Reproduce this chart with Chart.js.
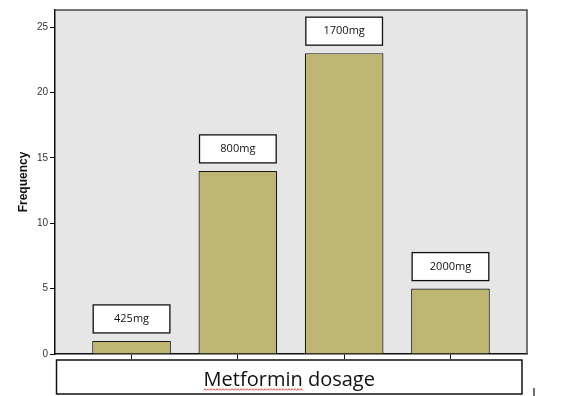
<!DOCTYPE html>
<html>
<head>
<meta charset="utf-8">
<script src="https://cdn.jsdelivr.net/npm/chart.js@4/dist/chart.umd.min.js"></script>
<style>
  html, body { margin: 0; padding: 0; background: #fff; }
  canvas { display: block; }
</style>
</head>
<body>
<canvas id="dosageChart" width="575" height="396"></canvas>
<script>
const categories = ["425mg", "800mg", "1700mg", "2000mg"];
const frequencies = [1, 14, 23, 5];
const axisTitle = "Metformin dosage";
const yTitle = "Frequency";

// plot background + frame (top / right lines in dark gray)
const plotFrame = {
    id: "plotFrame",
    beforeDraw(chart) {
        const { ctx, chartArea: a } = chart;
        ctx.save();
        ctx.fillStyle = "#e6e6e6";
        ctx.fillRect(a.left, a.top, a.right - a.left, a.bottom - a.top);
        ctx.restore();
    },
    afterDraw(chart) {
        const { ctx, chartArea: a } = chart;
        ctx.save();
        ctx.strokeStyle = "#4a4a4a";
        ctx.lineWidth = 1.5;
        ctx.beginPath();
        ctx.moveTo(a.left, a.top);
        ctx.lineTo(a.right, a.top);
        ctx.lineTo(a.right, a.bottom);
        ctx.stroke();
        ctx.restore();
    },
};

// white labelled boxes sitting above each bar
const barLabels = {
    id: "barLabels",
    afterDatasetsDraw(chart) {
        const { ctx } = chart;
        const meta = chart.getDatasetMeta(0);
        ctx.save();
        meta.data.forEach((bar, i) => {
            const w = bar.width - 2;
            const h = 28;
            const bx = bar.x - w / 2;
            const by = bar.y - 8 - h;
            ctx.fillStyle = "#fff";
            ctx.fillRect(bx, by, w, h);
            ctx.strokeStyle = "#111";
            ctx.lineWidth = 1.3;
            ctx.strokeRect(bx, by, w, h);
            ctx.fillStyle = "#111";
            ctx.font = "11px 'Open Sans'";
            ctx.textAlign = "center";
            ctx.textBaseline = "middle";
            ctx.fillText(categories[i], bar.x, by + h / 2);
        });
        ctx.restore();
    },
};

// boxed x-axis caption under the plot
const captionBox = {
    id: "captionBox",
    afterDraw(chart) {
        const { ctx, chartArea: a } = chart;
        const left = a.left + 1.5, right = a.right - 5;
        const top = a.bottom + 6, bottom = 394;
        ctx.save();
        ctx.fillStyle = "#fff";
        ctx.fillRect(left, top, right - left, bottom - top);
        ctx.strokeStyle = "#111";
        ctx.lineWidth = 1.5;
        ctx.strokeRect(left, top, right - left, bottom - top);

        ctx.font = "20px 'Open Sans'";
        ctx.fillStyle = "#111";
        ctx.textAlign = "center";
        ctx.textBaseline = "alphabetic";
        const cx = (left + right) / 2;
        ctx.fillText(axisTitle, cx, 386);

        // red squiggle under the first word
        const full = ctx.measureText(axisTitle).width;
        const word = ctx.measureText(axisTitle.split(" ")[0]).width;
        const x0 = cx - full / 2;
        ctx.strokeStyle = "#d02020";
        ctx.lineWidth = 0.8;
        ctx.beginPath();
        for (let x = 0; x <= word; x += 1.5) {
            const y = 389.5 + ((Math.round(x / 1.5) % 2) ? -0.8 : 0.8);
            if (x === 0) ctx.moveTo(x0 + x, y); else ctx.lineTo(x0 + x, y);
        }
        ctx.stroke();

        // stray mark at the lower right
        ctx.strokeStyle = "#111";
        ctx.lineWidth = 1.2;
        ctx.beginPath();
        ctx.moveTo(a.right + 7, 388);
        ctx.lineTo(a.right + 7, 396);
        ctx.stroke();
        ctx.restore();
    },
};

new Chart(document.getElementById("dosageChart").getContext("2d"), {
    type: "bar",
    data: {
        datasets: [
            {
                data: categories.map((c, i) => ({ x: i, y: frequencies[i] })),
                backgroundColor: "#bdb673",
                borderColor: "#1a1a1a",
                borderWidth: 1.2,
                borderSkipped: "start",
                barPercentage: 0.74,
                categoryPercentage: 1,
            },
        ],
    },
    options: {
        responsive: false,
        devicePixelRatio: 1,
        animation: false,
        layout: { padding: { top: 10, right: 48, left: 0, bottom: 0 } },
        plugins: {
            legend: { display: false },
            tooltip: { enabled: false },
        },
        scales: {
            x: {
                type: "linear",
                min: -0.72,
                max: 3.72,
                offset: false,
                afterBuildTicks: (s) => {
                    s.ticks = categories.map((c, i) => ({ value: i }));
                },
                afterFit: (s) => { s.height = 42; },
                ticks: { display: false },
                grid: { offset: false, drawOnChartArea: false, drawTicks: true, tickLength: 5, color: "#111" },
                border: { display: true, color: "#111", width: 1.5 },
            },
            y: {
                min: 0,
                max: 26.3,
                afterFit: (s) => { s.width = 55; },
                ticks: {
                    stepSize: 5,
                    includeBounds: false,
                    color: "#333",
                    padding: 2,
                    font: { family: "'Liberation Sans', Arial", size: 10 },
                },
                grid: { drawOnChartArea: false, tickLength: 5, color: "#111" },
                border: { display: true, color: "#111", width: 1.5 },
                title: {
                    display: true,
                    text: yTitle,
                    color: "#111",
                    font: { family: "'Liberation Sans', Arial", size: 12, weight: "bold" },
                    padding: { top: 16, bottom: 0 },
                },
            },
        },
    },
    plugins: [plotFrame, barLabels, captionBox],
});
</script>
</body>
</html>
